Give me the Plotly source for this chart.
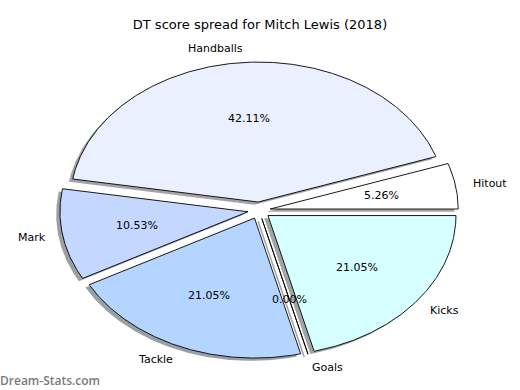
import numpy as np
import plotly.graph_objects as go

# ---- data ----
labels = ["Hitout", "Handballs", "Mark", "Tackle", "Goals", "Kicks"]
values = [1, 8, 2, 4, 0, 4]
colors = ["#ffffff", "#eaf0ff", "#c4d8ff", "#b3d5ff", "#e0e8ff", "#d6ffff"]
title = "DT score spread for Mitch Lewis (2018)"
watermark = "Dream-Stats.com"

# ---- pie geometry (matplotlib-style) ----
RADIUS = 1.0
EXPLODE = 0.06
LABEL_DIST = 1.1
PCT_DIST = 0.6
SH_DX, SH_DY = -0.02, -0.02
FONT = "DejaVu Sans"

def hex_rgb(h):
    h = h.lstrip("#")
    return [int(h[i:i + 2], 16) for i in (0, 2, 4)]

total = float(sum(values))
fracs = [v / total for v in values]

wedges = []
t = 0.0
for lab, f, col in zip(labels, fracs, colors):
    t1, t2 = t, t + 360.0 * f
    t = t2
    tm = np.deg2rad(0.5 * (t1 + t2))
    cx, cy = EXPLODE * np.cos(tm), EXPLODE * np.sin(tm)
    if t2 - t1 > 1e-9:
        n = max(2, int((t2 - t1) * 2))
        th = np.deg2rad(np.linspace(t1, t2, n))
        xs = np.concatenate([[cx], cx + RADIUS * np.cos(th), [cx]])
        ys = np.concatenate([[cy], cy + RADIUS * np.sin(th), [cy]])
    else:
        th = np.deg2rad(t1)
        xs = np.array([cx, cx + RADIUS * np.cos(th), cx])
        ys = np.array([cy, cy + RADIUS * np.sin(th), cy])
    wedges.append(dict(label=lab, frac=f, color=col, tm=tm, cx=cx, cy=cy, xs=xs, ys=ys))

fig = go.Figure()

# shadows first
for w in wedges:
    r, g, b = hex_rgb(w["color"])
    sc = "rgba(%d,%d,%d,0.5)" % (int(r * 0.3), int(g * 0.3), int(b * 0.3))
    zero = w["frac"] == 0
    fig.add_trace(go.Scatter(
        x=w["xs"] + SH_DX, y=w["ys"] + SH_DY, mode="lines",
        fill=None if zero else "toself",
        fillcolor=sc, line=dict(color=sc, width=1.5 if zero else 0),
        hoverinfo="skip", showlegend=False))

# wedges
for w in wedges:
    fig.add_trace(go.Scatter(
        x=w["xs"], y=w["ys"], mode="lines", fill="toself",
        fillcolor=w["color"], line=dict(color="#000000", width=0.9),
        hoverinfo="skip", showlegend=False))

annotations = []
for w in wedges:
    tm = w["tm"]
    xt = w["cx"] + LABEL_DIST * RADIUS * np.cos(tm)
    yt = w["cy"] + LABEL_DIST * RADIUS * np.sin(tm)
    annotations.append(dict(
        x=xt, y=yt, xref="x", yref="y", text=w["label"], showarrow=False,
        xanchor="left" if xt > 0 else "right", yanchor="middle",
        xshift=-3 if xt > 0 else 4,
        font=dict(family=FONT, size=11, color="#000000")))
    xp = w["cx"] + PCT_DIST * RADIUS * np.cos(tm)
    yp = w["cy"] + PCT_DIST * RADIUS * np.sin(tm)
    annotations.append(dict(
        x=xp, y=yp, xref="x", yref="y", text="%.2f%%" % (100 * w["frac"]),
        showarrow=False, xanchor="center", yanchor="middle",
        font=dict(family=FONT, size=11, color="#000000")))

annotations.append(dict(
    x=0.0, y=1 - 380 / 390.0, xref="paper", yref="paper", text=watermark,
    showarrow=False, xanchor="left", yanchor="middle", xshift=-2,
    font=dict(family="Open Sans", size=12, color="#7a7a7a", weight=600)))

fig.update_layout(
    width=520, height=390,
    margin=dict(l=0, r=0, t=0, b=0),
    paper_bgcolor="white", plot_bgcolor="white",
    showlegend=False,
    title=dict(text=title, x=0.5, xanchor="center", y=1 - 24 / 390.0,
               yanchor="middle", yref="container",
               font=dict(family=FONT, size=13, color="#000000")),
    xaxis=dict(range=[-1.378, 1.388], visible=False, fixedrange=True),
    yaxis=dict(range=[-1.283, 1.503], visible=False, fixedrange=True),
    annotations=annotations,
)

fig.write_html("out.html", config={"displayModeBar": False},
               post_script="document.body.style.margin='0';document.body.style.padding='0';")
